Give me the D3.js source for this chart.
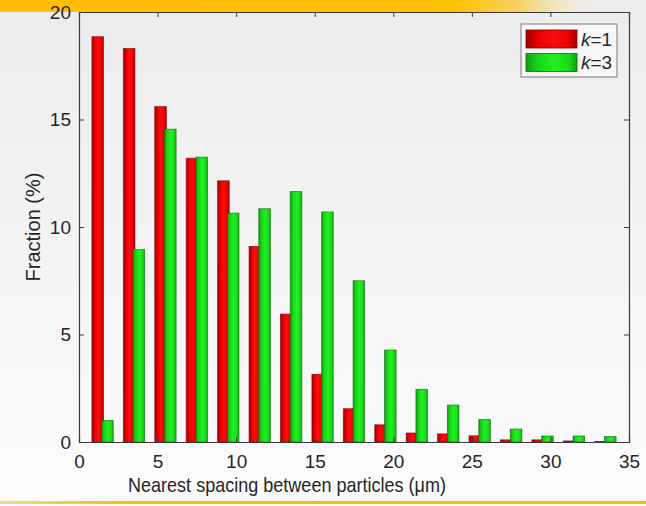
<!DOCTYPE html>
<html>
<head>
<meta charset="utf-8">
<script src="https://cdn.jsdelivr.net/npm/d3@7"></script>
<style>
  html, body { margin: 0; padding: 0; background: #f4f4f4; }
  svg { display: block; }
  text { font-family: "Liberation Sans", Arial, sans-serif; fill: #262626; }
</style>
</head>
<body>
<svg id="chart" width="646" height="506"></svg>
<script>
// Bin centres of the spacing histogram (µm)
const binCenters = [1.5, 3.5, 5.5, 7.5, 9.5, 11.5, 13.5, 15.5, 17.5, 19.5, 21.5, 23.5, 25.5, 27.5, 29.5, 31.5, 33.5];
// Fraction of particles per bin (%)
const fractionK1 = [18.85, 18.3, 15.6, 13.2, 12.15, 9.1, 5.95, 3.15, 1.55, 0.8, 0.42, 0.38, 0.29, 0.1, 0.1, 0.05, 0.03];
const fractionK3 = [1.0, 8.95, 14.55, 13.25, 10.65, 10.85, 11.65, 10.7, 7.5, 4.28, 2.45, 1.72, 1.05, 0.6, 0.28, 0.28, 0.26];
const seriesNames = ["1", "3"];
const xTicks = [0, 5, 10, 15, 20, 25, 30, 35];
const yTicks = [0, 5, 10, 15, 20];

const W = 646, H = 506;
const plot = { left: 79, right: 629, top: 12, bottom: 442 };

const svg = d3.select("#chart");
const defs = svg.append("defs");

// page background: soft vertical grey gradient
const bg = defs.append("linearGradient").attr("id", "bg").attr("x1", 0).attr("y1", 0).attr("x2", 0).attr("y2", 1);
bg.append("stop").attr("offset", "0%").attr("stop-color", "#ececec");
bg.append("stop").attr("offset", "100%").attr("stop-color", "#fcfcfc");
svg.append("rect").attr("width", W).attr("height", H).attr("fill", "url(#bg)");

// orange header band fading out to the right
const band = defs.append("linearGradient").attr("id", "band").attr("x1", 0).attr("y1", 0).attr("x2", 1).attr("y2", 0);
band.append("stop").attr("offset", "0%").attr("stop-color", "#ffbf00");
band.append("stop").attr("offset", "70%").attr("stop-color", "#ffc000");
band.append("stop").attr("offset", "80%").attr("stop-color", "#f8d060");
band.append("stop").attr("offset", "94%").attr("stop-color", "#f0f0f0").attr("stop-opacity", 0);
svg.append("rect").attr("x", 0).attr("y", 0).attr("width", W).attr("height", 12).attr("fill", "url(#band)");

// thin orange rule at the bottom, fading in from the left
const rule = defs.append("linearGradient").attr("id", "rule").attr("x1", 0).attr("y1", 0).attr("x2", 1).attr("y2", 0);
rule.append("stop").attr("offset", "0%").attr("stop-color", "#f4d890");
rule.append("stop").attr("offset", "20%").attr("stop-color", "#f5c000");
rule.append("stop").attr("offset", "100%").attr("stop-color", "#f5be00");
svg.append("rect").attr("x", 0).attr("y", 501).attr("width", W).attr("height", 3).attr("fill", "url(#rule)");

// shaded bar fills
function barGradient(id, edge, mid, centre) {
  const g = defs.append("linearGradient").attr("id", id).attr("x1", 0).attr("y1", 0).attr("x2", 1).attr("y2", 0);
  g.append("stop").attr("offset", "0%").attr("stop-color", edge);
  g.append("stop").attr("offset", "25%").attr("stop-color", mid);
  g.append("stop").attr("offset", "55%").attr("stop-color", centre);
  g.append("stop").attr("offset", "85%").attr("stop-color", mid);
  g.append("stop").attr("offset", "100%").attr("stop-color", edge);
}
barGradient("gRed", "#a00000", "#e80000", "#ff0d0d");
barGradient("gGreen", "#10a010", "#18d818", "#22f022");

const x = d3.scaleLinear().domain([0, 35]).range([plot.left, plot.right]);
const y = d3.scaleLinear().domain([0, 20]).range([plot.bottom, plot.top]);

const barW = 0.74;      // bar width in µm
const offset = 0.31;    // half spacing of the two bars in a group (µm)

const series = [
  { name: seriesNames[0], values: fractionK1, fill: "url(#gRed)", stroke: "#7a0000", dx: -offset },
  { name: seriesNames[1], values: fractionK3, fill: "url(#gGreen)", stroke: "#0b6a0b", dx: offset }
];

const bars = svg.append("g");
series.forEach(s => {
  bars.selectAll(null)
    .data(binCenters.map((c, i) => ({ c, v: s.values[i] })))
    .enter().append("rect")
    .attr("x", d => x(d.c + s.dx - barW / 2))
    .attr("width", d => x(barW) - x(0))
    .attr("y", d => y(d.v))
    .attr("height", d => y(0) - y(d.v))
    .attr("fill", s.fill)
    .attr("stroke", s.stroke)
    .attr("stroke-width", 0.8)
    .attr("stroke-opacity", 0.7);
});

// axes box with inward ticks on all four sides
const axisColor = "#3a3a3a";
const tickLen = 5;
const xAxis = d3.axisBottom(x).tickValues(xTicks).tickSize(-tickLen).tickPadding(13).tickFormat(d3.format("d"));
const yAxis = d3.axisLeft(y).tickValues(yTicks).tickSize(-tickLen).tickPadding(8).tickFormat(d3.format("d"));
const xTop = d3.axisTop(x).tickValues(xTicks).tickSize(-tickLen).tickFormat("");
const yRight = d3.axisRight(y).tickValues(yTicks).tickSize(-tickLen).tickFormat("");

function styleAxis(g) {
  g.select(".domain").attr("stroke", axisColor).attr("stroke-width", 1.2);
  g.selectAll(".tick line").attr("stroke", axisColor).attr("stroke-width", 1);
  g.selectAll(".tick text").style("font-size", "19px").attr("fill", "#262626");
}
svg.append("g").attr("transform", `translate(0,${plot.bottom})`).call(xAxis).call(styleAxis);
svg.append("g").attr("transform", `translate(${plot.left},0)`).call(yAxis).call(styleAxis);
svg.append("g").attr("transform", `translate(0,${plot.top})`).call(xTop).call(styleAxis);
svg.append("g").attr("transform", `translate(${plot.right},0)`).call(yRight).call(styleAxis);

// axis titles
svg.append("text")
  .attr("x", 287).attr("y", 492)
  .attr("text-anchor", "middle")
  .attr("textLength", 318)
  .attr("lengthAdjust", "spacingAndGlyphs")
  .style("font-size", "21px")
  .text("Nearest spacing between particles (μm)");

svg.append("text")
  .attr("transform", "translate(40,227) rotate(-90)")
  .attr("text-anchor", "middle")
  .style("font-size", "20px")
  .text("Fraction (%)");

// legend
const lg = svg.append("g").attr("transform", "translate(521,24)");
lg.append("rect").attr("width", 96).attr("height", 53)
  .attr("fill", "#f6f6f6").attr("stroke", "#7a7a7a").attr("stroke-width", 1);
series.forEach((s, i) => {
  const row = lg.append("g").attr("transform", `translate(5,${6 + i * 23.5})`);
  row.append("rect").attr("width", 51).attr("height", 18)
    .attr("fill", s.fill).attr("stroke", s.stroke).attr("stroke-width", 0.8);
  const t = row.append("text").attr("x", 55).attr("y", 15.5).style("font-size", "19px");
  t.append("tspan").style("font-style", "italic").text("k");
  t.append("tspan").text("=" + s.name);
});
</script>
</body>
</html>
